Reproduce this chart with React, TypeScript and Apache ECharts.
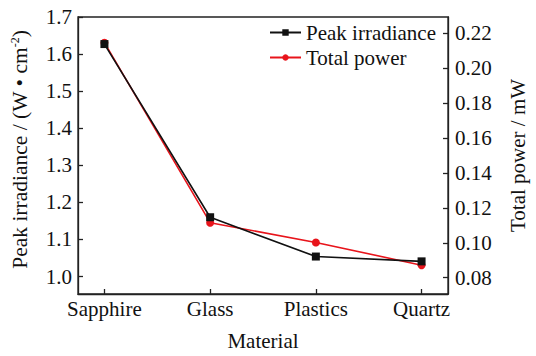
import React, { useEffect, useRef } from "react";
import * as echarts from "echarts";

const categories = ["Sapphire", "Glass", "Plastics", "Quartz"];
const peakIrradiance = [1.627, 1.160, 1.054, 1.041];
const totalPower = [0.2145, 0.1115, 0.1002, 0.0872];
const leftTicks = [1.0, 1.1, 1.2, 1.3, 1.4, 1.5, 1.6, 1.7];
const rightTicks = [0.08, 0.1, 0.12, 0.14, 0.16, 0.18, 0.2, 0.22];
const xTicks = [0, 1, 2, 3];

const FONT = "Times New Roman, Liberation Serif, serif";
const AXIS_COLOR = "#222";
const RED = "#e8141b";
const BLACK = "#111";

export default function App() {
  const ref = useRef<HTMLDivElement>(null);
  useEffect(() => {
    if (!ref.current) return;
    const chart = echarts.init(ref.current, null, { renderer: "svg" });
    const textStyle = { fontFamily: FONT, fontSize: 21, color: "#111" };
    const axisLine = { show: true, onZero: false, lineStyle: { color: AXIS_COLOR, width: 1.3 } };
    chart.setOption({
      animation: false,
      backgroundColor: "#fff",
      textStyle: { fontFamily: FONT },
      grid: {
        left: 78,
        top: 17,
        right: 77,
        bottom: 59,
        show: true,
        borderColor: AXIS_COLOR,
        borderWidth: 1.3,
        backgroundColor: "transparent",
      },
      legend: {
        orient: "vertical",
        left: 264,
        top: 17,
        itemWidth: 31,
        itemHeight: 8,
        itemGap: 4,
        data: ["Peak irradiance", "Total power"],
        textStyle: { ...textStyle },
      },
      xAxis: {
        type: "value",
        min: -0.25,
        max: 3.25,
        name: "Material",
        nameLocation: "middle",
        nameGap: 36,
        nameTextStyle: { ...textStyle },
        axisLine,
        splitLine: { show: false },
        axisTick: {
          show: true,
          inside: true,
          length: 5,
          customValues: xTicks,
          lineStyle: { color: AXIS_COLOR, width: 1.3 },
        },
        axisLabel: {
          customValues: xTicks,
          margin: 4,
          ...textStyle,
          formatter: (v: number) => categories[Math.round(v)] ?? "",
        },
      },
      yAxis: [
        {
          type: "value",
          min: 0.953,
          max: 1.7,
          position: "left",
          name: "{a|Peak irradiance / (W • cm}{s|-2}{a|)}",
          nameLocation: "middle",
          nameRotate: 90,
          nameGap: 47,
          nameTextStyle: {
            padding: [0, 0, 0, 12],
            rich: {
              a: { fontFamily: FONT, fontSize: 21.5, color: "#111", lineHeight: 22, verticalAlign: "bottom" },
              s: { fontFamily: FONT, fontSize: 12, color: "#111", lineHeight: 22, verticalAlign: "top" },
            },
          },
          axisLine,
          splitLine: { show: false },
          axisTick: {
            show: true,
            inside: true,
            length: 5,
            customValues: leftTicks,
            lineStyle: { color: AXIS_COLOR, width: 1.3 },
          },
          axisLabel: {
            customValues: leftTicks,
            margin: 6,
            ...textStyle,
            formatter: (v: number) => v.toFixed(1),
          },
        },
        {
          type: "value",
          min: 0.0707,
          max: 0.2292,
          position: "right",
          name: "Total power / mW",
          nameLocation: "middle",
          nameRotate: 90,
          nameGap: 59,
          nameTextStyle: { ...textStyle },
          axisLine,
          splitLine: { show: false },
          axisTick: {
            show: true,
            inside: true,
            length: 5,
            customValues: rightTicks,
            lineStyle: { color: AXIS_COLOR, width: 1.3 },
          },
          axisLabel: {
            customValues: rightTicks,
            margin: 7,
            ...textStyle,
            formatter: (v: number) => v.toFixed(2),
          },
        },
      ],
      series: [
        {
          name: "Total power",
          type: "line",
          yAxisIndex: 1,
          data: totalPower.map((v, i) => [i, v]),
          symbol: "circle",
          symbolSize: 8,
          color: RED,
          lineStyle: { color: RED, width: 1.6 },
          itemStyle: { color: RED },
          z: 2,
        },
        {
          name: "Peak irradiance",
          type: "line",
          yAxisIndex: 0,
          data: peakIrradiance.map((v, i) => [i, v]),
          symbol: "rect",
          symbolSize: 8,
          color: BLACK,
          lineStyle: { color: BLACK, width: 1.6 },
          itemStyle: { color: BLACK },
          z: 3,
        },
      ],
    });
    return () => chart.dispose();
  }, []);
  return (
    <div
      ref={ref}
      style={{ position: "fixed", left: 0, top: 0, width: 536, height: 356 }}
    />
  );
}
